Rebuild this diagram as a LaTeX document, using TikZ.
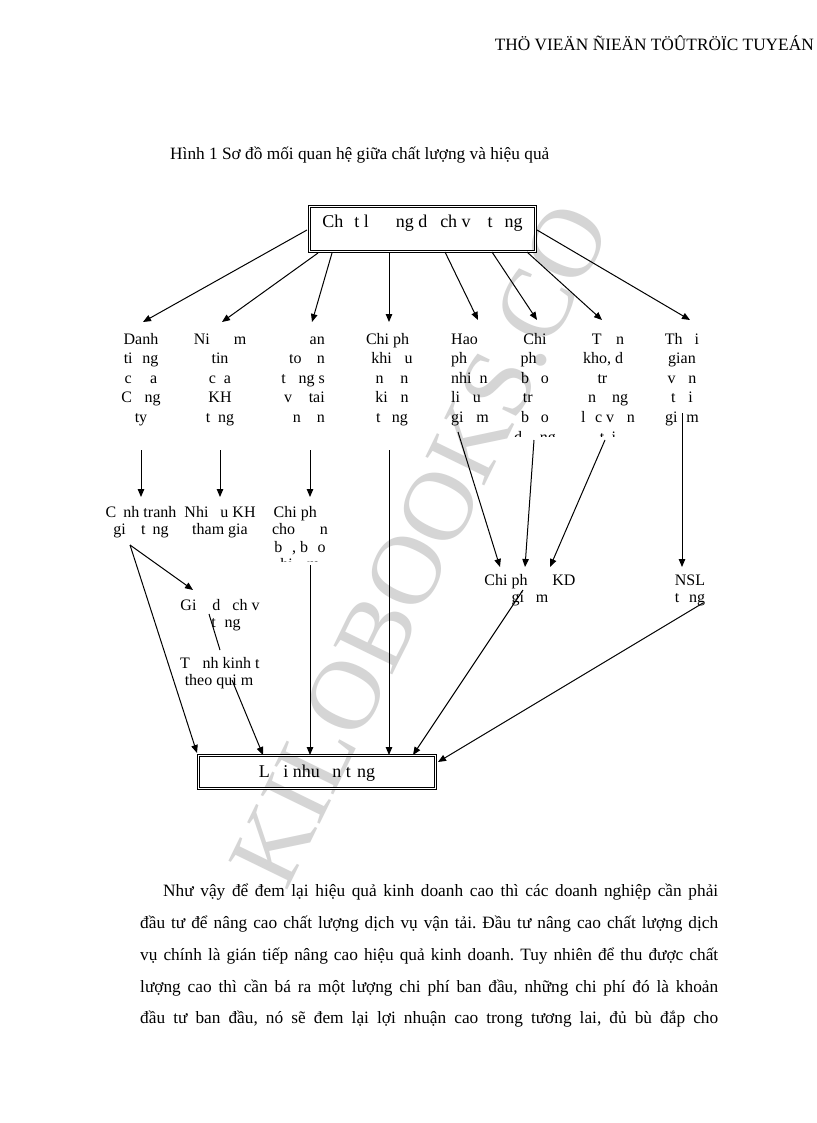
\documentclass[tikz,border=0pt]{standalone}
\usepackage{fontspec}
\setmainfont{Liberation Serif}
\usetikzlibrary{arrows.meta}
\frenchspacing
\newcommand\gapx[1]{\makebox[#1em]{}}
\newcommand\stk[3]{{\fontsize{16}{#2}\selectfont\begin{tabular}[t]{@{}#1@{}}#3\end{tabular}}}
\begin{document}
\begin{tikzpicture}[x=1pt,y=-1pt,
  arr/.style={line width=1pt,-{Triangle[length=8pt,width=6.5pt]}},
  ln/.style={line width=1pt},
  mainbox/.style={draw,double,line width=1.1pt,double distance=0.9pt,inner xsep=0pt},
  txt/.style={inner sep=0pt,anchor=base},
  body/.style={inner sep=0pt,anchor=base west,font=\fontsize{17.3}{32}\selectfont}]
\useasboundingbox (0,0) rectangle (816,1123);
\fill[white] (0,0) rectangle (816,1123);

% watermark
\node[rotate=64,text=gray!33,inner sep=0pt,font=\fontsize{100}{100}\selectfont] (wm) at (420,545) {KILOBOOKS.CO};

% header and title
\node[inner sep=0pt,anchor=base east,font=\fontsize{17.3}{20}\selectfont] (hdr) at (814,51) {THÖ VIEÄN ÑIEÄN TÖÛTRÖÏC TUYEÁN};
\node[inner sep=0pt,anchor=base west,font=\fontsize{17.3}{20}\selectfont] (ttl) at (170,160) {Hình 1 Sơ đồ mối quan hệ giữa chất lượng và hiệu quả};

% main boxes
\node[mainbox,minimum width=226pt,text height=16pt,text depth=18pt,inner ysep=5.5pt,font=\fontsize{18}{20}\selectfont] (top) at (422.5,229)
  {Ch\gapx{.61}t l\gapx{1.5}ng d\gapx{.72}ch v\gapx{.94}t\gapx{.67}ng};
\node[mainbox,minimum width=237pt,text height=18.5pt,text depth=8.5pt,inner ysep=3pt,font=\fontsize{18}{20}\selectfont] (bot) at (317,772)
  {L\gapx{.75}i nhu\gapx{.7}n t\gapx{.35}ng};

% first row
\node[txt] (c1) at (141,344) {\stk{c}{19.6}{Danh\\ti\gapx{.6}ng\\c\gapx{1.15}a\\C\gapx{.8}ng\\ty}};
\node[txt] (c2) at (220,344) {\stk{c}{19.6}{Ni\gapx{1.5}m\\tin\\c\gapx{.5}a\\KH\\t\gapx{.5}ng}};
\node[txt,anchor=base east] (c3) at (325,344) {\stk{r}{19.6}{an\\to\gapx{.95}n\\t\gapx{.8}ng s\\v\gapx{1.05}tai\\n\gapx{1}n}};
\node[txt] (c4) at (392,344) {\stk{c}{19.6}{Chi ph\gapx{.55}\\khi\gapx{.8}u\\n\gapx{1.05}n\\ki\gapx{.8}n\\t\gapx{.7}ng}};
\node[txt,anchor=base west] (c5) at (451,344) {\stk{l}{19.6}{Hao\\ph\\nhi\gapx{.5}n\\li\gapx{.8}u\\gi\gapx{.8}m}};
\begin{scope}
\clip (480,320) rectangle (575,436);
\node[txt] (c6) at (535,344) {\stk{c}{19.6}{Chi\\ph\gapx{.8}\\b\gapx{.75}o\\tr\gapx{.9}\\b\gapx{.75}o\\d\gapx{1.1}ng}};
\end{scope}
\begin{scope}
\clip (570,320) rectangle (650,436);
\node[txt] (c7) at (608,344) {\stk{c}{19.6}{T\gapx{.9}n\\kho, d\gapx{.6}\\tr\gapx{.7}\\n\gapx{1}ng\\l\gapx{.6}c v\gapx{.8}n\\t\gapx{.45}i}};
\end{scope}
\node[txt] (c8) at (682,344) {\stk{c}{19.6}{Th\gapx{.75}i\\gian\\v\gapx{.8}n\\t\gapx{.8}i\\gi\gapx{.55}m}};

% second row
\node[txt] (ct) at (141,517) {\stk{c}{17.5}{C\gapx{.45}nh tranh\\gi\gapx{.95}t\gapx{.45}ng}};
\node[txt] (nkh) at (220,517) {\stk{c}{17.5}{Nhi\gapx{.75}u KH\\tham gia}};
\begin{scope}
\clip (250,500) rectangle (350,561);
\node[txt] (cpc) at (300,517) {\stk{c}{17.5}{Chi ph\gapx{.6}\\cho\gapx{1.55}n\\b\gapx{.6}, b\gapx{.6}o\\hi\gapx{.9}m}};
\end{scope}
\node[txt] (gdv) at (226,610) {\stk{c}{17.5}{Gi\gapx{1}d\gapx{.75}ch v\gapx{.75}\\t\gapx{.55}ng}};
\node[txt] (tkt) at (223,668) {\stk{c}{17.5}{T\gapx{.8}nh kinh t\gapx{.4}\\theo qui m\gapx{.5}}};
\node[txt] (cpkd) at (530,585) {\stk{c}{17.5}{Chi ph\gapx{1.55}KD\\gi\gapx{.75}m}};
\node[txt] (nsl) at (690,585) {\stk{c}{17.5}{NSL\\t\gapx{.6}ng}};

% connector end points
\coordinate (a1s) at (307,230); \coordinate (a1e) at (143,322);
\coordinate (a2s) at (318,253); \coordinate (a2e) at (222,322);
\coordinate (a3s) at (332,253); \coordinate (a3e) at (312,322);
\coordinate (a4s) at (389,253); \coordinate (a4e) at (389,322);
\coordinate (a5s) at (445,252); \coordinate (a5e) at (478,320);
\coordinate (a6s) at (492,252); \coordinate (a6e) at (537,320);
\coordinate (a7s) at (527,252); \coordinate (a7e) at (602,320);
\coordinate (a8s) at (537,230); \coordinate (a8e) at (690,320);

\coordinate (b1s) at (141,450); \coordinate (b1e) at (141,497);
\coordinate (b2s) at (220,450); \coordinate (b2e) at (220,497);
\coordinate (b3s) at (310,450); \coordinate (b3e) at (310,497);
\coordinate (b4s) at (389,450); \coordinate (b4e) at (389,755);
\coordinate (b5s) at (458,432); \coordinate (b5e) at (500,567);
\coordinate (b6s) at (534,440); \coordinate (b6e) at (525,567);
\coordinate (b7s) at (605,440); \coordinate (b7e) at (550,567);
\coordinate (b8s) at (682,413); \coordinate (b8e) at (682,567);

\coordinate (cts) at (130,545);
\coordinate (c1e) at (193,590);
\coordinate (c2e) at (197,753);
\coordinate (d1s) at (209,614); \coordinate (d1e) at (220,650);
\coordinate (d2s) at (232,680); \coordinate (d2e) at (263,755);
\coordinate (e1s) at (310,565); \coordinate (e1e) at (310,755);
\coordinate (f1s) at (523,590); \coordinate (f1e) at (413,755);
\coordinate (g1s) at (703,603); \coordinate (g1e) at (438,762);

% connectors from the top box
\foreach \i in {1,...,8} {\draw[arr] (a\i s) -- (a\i e);}
% first row to second row
\foreach \i in {1,...,8} {\draw[arr] (b\i s) -- (b\i e);}
% second row
\draw[arr] (cts) -- (c1e);
\draw[arr] (cts) -- (c2e);
\draw[ln] (d1s) -- (d1e);
\draw[arr] (d2s) -- (d2e);
\draw[arr] (e1s) -- (e1e);
\draw[arr] (f1s) -- (f1e);
\draw[arr] (g1s) -- (g1e);

% paragraph
\node[body] (p1) at (163,896) {\makebox[555pt][s]{Như vậy để đem lại hiệu quả kinh doanh cao thì các doanh nghiệp cần phải}};
\node[body] (p2) at (140,928) {\makebox[578pt][s]{đầu tư để nâng cao chất lượng dịch vụ vận tải. Đầu tư nâng cao chất lượng dịch}};
\node[body] (p3) at (140,960) {\makebox[578pt][s]{vụ chính là gián tiếp nâng cao hiệu quả kinh doanh. Tuy nhiên để thu được chất}};
\node[body] (p4) at (140,992) {\makebox[578pt][s]{lượng cao thì cần bá ra một lượng chi phí ban đầu, những chi phí đó là khoản}};
\node[body] (p5) at (140,1023) {\makebox[578pt][s]{đầu tư ban đầu, nó sẽ đem lại lợi nhuận cao trong tương lai, đủ bù đắp cho}};
\end{tikzpicture}
\end{document}
